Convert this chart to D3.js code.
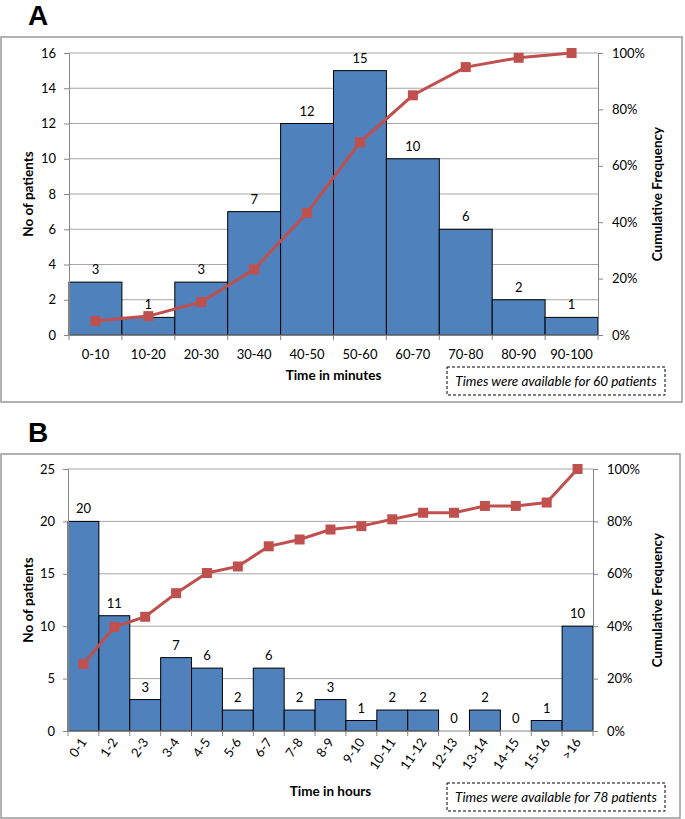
<!DOCTYPE html>
<html>
<head>
<meta charset="utf-8">
<script src="https://cdnjs.cloudflare.com/ajax/libs/d3/7.8.5/d3.min.js"></script>
<style>
  body { margin: 0; background: #fff; }
  svg text { font-family: Lato, "Open Sans", sans-serif; fill: #000; }
</style>
</head>
<body>
<svg id="chart" width="685" height="819"></svg>
<script>
// Panel A: time in minutes
const minuteBins = ["0-10", "10-20", "20-30", "30-40", "40-50", "50-60", "60-70", "70-80", "80-90", "90-100"];
const minuteCounts = [3, 1, 3, 7, 12, 15, 10, 6, 2, 1];
const minuteCumPct = [0.05, 0.067, 0.117, 0.233, 0.433, 0.683, 0.85, 0.95, 0.983, 1.0];
const minuteTicks = [0, 2, 4, 6, 8, 10, 12, 14, 16];

// Panel B: time in hours
const hourBins = ["0-1", "1-2", "2-3", "3-4", "4-5", "5-6", "6-7", "7-8", "8-9", "9-10",
                  "10-11", "11-12", "12-13", "13-14", "14-15", "15-16", ">16"];
const hourCounts = [20, 11, 3, 7, 6, 2, 6, 2, 3, 1, 2, 2, 0, 2, 0, 1, 10];
const hourCumPct = [0.256, 0.397, 0.436, 0.526, 0.603, 0.628, 0.705, 0.731, 0.769, 0.782,
                    0.808, 0.833, 0.833, 0.859, 0.859, 0.872, 1.0];
const hourTicks = [0, 5, 10, 15, 20, 25];

const pctTicks = [0, 0.2, 0.4, 0.6, 0.8, 1.0];

const barFill = "#4f81bd";
const lineColor = "#c0504d";
const axisColor = "#868686";
const gridColor = "#a6a6a6";

const svg = d3.select("#chart");

function drawPanel(cfg) {
    const g = svg.append("g");

    // panel frame
    g.append("rect")
        .attr("x", cfg.frame.x).attr("y", cfg.frame.y)
        .attr("width", cfg.frame.w).attr("height", cfg.frame.h)
        .attr("fill", "none").attr("stroke", "#999").attr("stroke-width", 1.5);

    // panel letter
    g.append("text")
        .attr("x", 28).attr("y", cfg.letterY)
        .style("font-family", "'Liberation Sans', Arial, sans-serif")
        .style("font-weight", "bold").style("font-size", "28px")
        .text(cfg.letter);

    const x = d3.scaleBand().domain(cfg.bins).range([cfg.left, cfg.right]).padding(0);
    const y = d3.scaleLinear().domain([0, cfg.yMax]).range([cfg.bottom, cfg.top]);
    const yPct = d3.scaleLinear().domain([0, 1]).range([cfg.bottom, cfg.top]);

    // gridlines
    g.append("g").selectAll("line").data(cfg.yTicks.filter(d => d > 0)).join("line")
        .attr("x1", cfg.left).attr("x2", cfg.right)
        .attr("y1", d => y(d)).attr("y2", d => y(d))
        .attr("stroke", gridColor).attr("stroke-width", 1);

    // bars
    g.append("g").selectAll("rect").data(cfg.counts).join("rect")
        .attr("x", (d, i) => x(cfg.bins[i]))
        .attr("y", d => y(d))
        .attr("width", x.bandwidth())
        .attr("height", d => cfg.bottom - y(d))
        .attr("fill", barFill)
        .attr("stroke", "#000").attr("stroke-width", 1);

    // bar value labels
    g.append("g").selectAll("text").data(cfg.counts).join("text")
        .attr("x", (d, i) => x(cfg.bins[i]) + x.bandwidth() / 2)
        .attr("y", d => y(d) - 8)
        .attr("text-anchor", "middle")
        .style("font-size", "13px")
        .text(d => d);

    // left axis
    const leftAxis = d3.axisLeft(y).tickValues(cfg.yTicks).tickSize(5).tickPadding(8).tickFormat(d3.format("d"));
    const la = g.append("g").attr("transform", `translate(${cfg.left},0)`).call(leftAxis);
    // right axis
    const rightAxis = d3.axisRight(yPct).tickValues(pctTicks).tickSize(5).tickPadding(9).tickFormat(d3.format(".0%"));
    const ra = g.append("g").attr("transform", `translate(${cfg.right},0)`).call(rightAxis);

    // bottom axis line with ticks at bin edges
    const bx = g.append("g");
    bx.append("line")
        .attr("x1", cfg.left).attr("x2", cfg.right)
        .attr("y1", cfg.bottom).attr("y2", cfg.bottom)
        .attr("stroke", axisColor);
    const edges = cfg.bins.map(b => x(b)).concat([cfg.right]);
    bx.selectAll("line.tk").data(edges).join("line").attr("class", "tk")
        .attr("x1", d => d).attr("x2", d => d)
        .attr("y1", cfg.bottom).attr("y2", cfg.bottom + 5)
        .attr("stroke", axisColor);

    [la, ra].forEach(a => {
        a.select(".domain").attr("stroke", axisColor);
        a.selectAll(".tick line").attr("stroke", axisColor);
        a.selectAll(".tick text").style("font-size", "13px").style("font-family", "Lato, sans-serif").attr("fill", "#000");
    });

    // category labels
    const cats = g.append("g").selectAll("text").data(cfg.bins).join("text")
        .style("font-size", "13px")
        .text(d => d);
    if (cfg.rotate) {
        cats.attr("text-anchor", "end")
            .attr("transform", d => `translate(${x(d) + x.bandwidth() / 2 + 4},${cfg.bottom + 11}) rotate(-55)`);
    } else {
        cats.attr("text-anchor", "middle")
            .attr("x", d => x(d) + x.bandwidth() / 2)
            .attr("y", cfg.bottom + 24);
    }

    // cumulative line + square markers
    const line = d3.line()
        .x((d, i) => x(cfg.bins[i]) + x.bandwidth() / 2)
        .y(d => yPct(d));
    g.append("path").datum(cfg.cum)
        .attr("d", line)
        .attr("fill", "none").attr("stroke", lineColor).attr("stroke-width", 3);
    g.append("g").selectAll("rect").data(cfg.cum).join("rect")
        .attr("x", (d, i) => x(cfg.bins[i]) + x.bandwidth() / 2 - 5)
        .attr("y", d => yPct(d) - 5)
        .attr("width", 10).attr("height", 10)
        .attr("fill", lineColor);

    // axis titles
    const midY = (cfg.top + cfg.bottom) / 2;
    g.append("text")
        .attr("transform", `translate(33,${midY}) rotate(-90)`)
        .attr("text-anchor", "middle")
        .style("font-weight", "bold").style("font-size", "13.5px")
        .text("No of patients");
    g.append("text")
        .attr("transform", `translate(662,${midY}) rotate(-90)`)
        .attr("text-anchor", "middle")
        .style("font-weight", "bold").style("font-size", "13.5px")
        .text("Cumulative Frequency");
    g.append("text")
        .attr("x", (cfg.left + cfg.right) / 2).attr("y", cfg.xTitleY)
        .attr("text-anchor", "middle")
        .style("font-weight", "bold").style("font-size", "13.5px")
        .text(cfg.xTitle);

    // note box
    g.append("rect")
        .attr("x", 447).attr("y", cfg.noteY)
        .attr("width", 218).attr("height", 28)
        .attr("fill", "none").attr("stroke", "#000").attr("stroke-width", 1)
        .attr("stroke-dasharray", "3,2");
    g.append("text")
        .attr("x", 556).attr("y", cfg.noteY + 19)
        .attr("text-anchor", "middle")
        .style("font-style", "italic").style("font-size", "13.5px")
        .text(cfg.note);
}

drawPanel({
    letter: "A", letterY: 25,
    frame: { x: 1, y: 37, w: 681, h: 365 },
    left: 69, right: 598, top: 53, bottom: 335,
    bins: minuteBins, counts: minuteCounts, cum: minuteCumPct,
    yMax: 16, yTicks: minuteTicks, rotate: false,
    xTitle: "Time in minutes", xTitleY: 380,
    noteY: 367, note: "Times were available for 60 patients"
});

drawPanel({
    letter: "B", letterY: 442,
    frame: { x: 1, y: 454, w: 679, h: 364 },
    left: 68, right: 593, top: 469, bottom: 731,
    bins: hourBins, counts: hourCounts, cum: hourCumPct,
    yMax: 25, yTicks: hourTicks, rotate: true,
    xTitle: "Time in hours", xTitleY: 796,
    noteY: 783, note: "Times were available for 78 patients"
});
</script>
</body>
</html>
